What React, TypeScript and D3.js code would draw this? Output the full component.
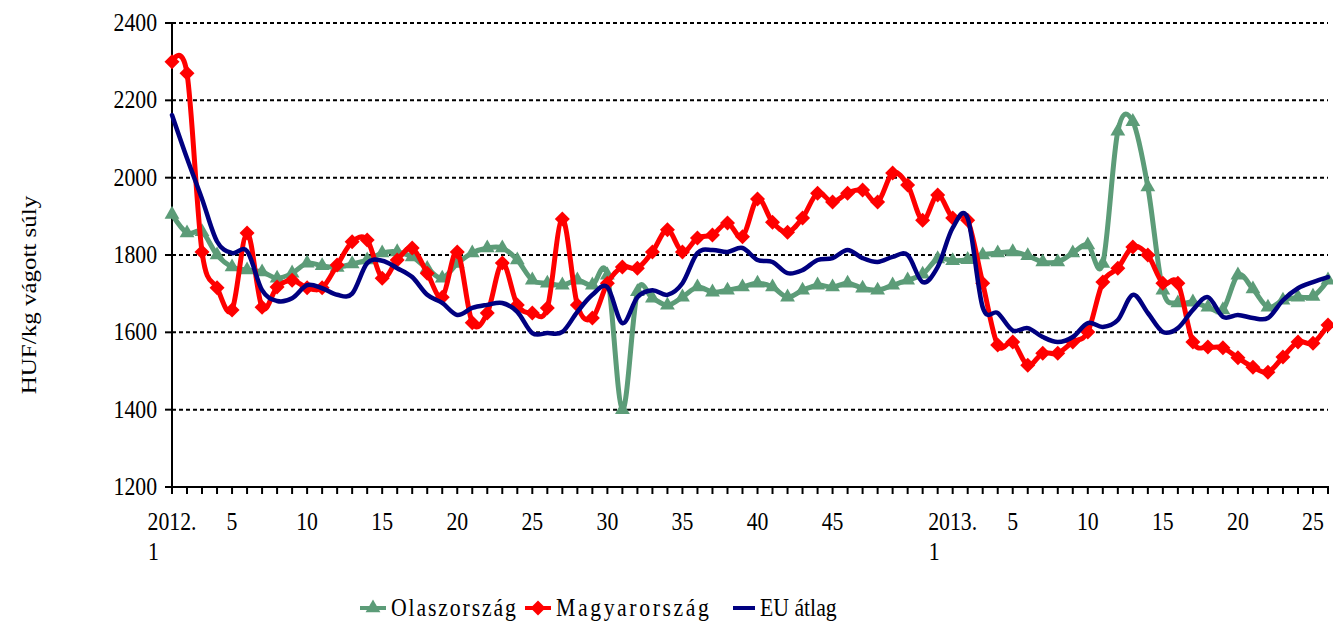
import React from "react";
import * as d3 from "d3";

// category axis: weeks of 2012 and first half of 2013
const years = ["2012.", "2013."];
const weeksInYear = [52, 26];
const labelledWeeks = [
  [1, 5, 10, 15, 20, 25, 30, 35, 40, 45],
  [1, 5, 10, 15, 20, 25],
];

const yTicks = [1200, 1400, 1600, 1800, 2000, 2200, 2400];

const olaszorszag = [
  1905, 1857, 1860, 1800, 1769, 1761, 1756, 1740, 1753, 1779,
  1772, 1768, 1777, 1787, 1805, 1808, 1795, 1765, 1740, 1778,
  1805, 1818, 1818, 1787, 1735, 1727, 1722, 1735, 1722, 1748,
  1400, 1705, 1688, 1670, 1691, 1717, 1704, 1709, 1717, 1727,
  1717, 1691, 1709, 1722, 1717, 1727, 1714, 1709, 1722, 1735,
  1750, 1790, 1785, 1788, 1800, 1805, 1808, 1798, 1782, 1782,
  1805, 1826, 1778, 2120, 2145, 1976, 1709, 1676, 1678, 1665,
  1658, 1748, 1712, 1665, 1683, 1691, 1693, 1735,
];

const magyarorszag = [
  2300, 2270, 1808, 1715, 1658, 1857, 1665, 1717, 1735, 1715,
  1715, 1774, 1834, 1839, 1740, 1787, 1818, 1753, 1691, 1808,
  1625, 1650, 1779, 1671, 1650, 1663, 1893, 1671, 1637, 1727,
  1769, 1766, 1808, 1865, 1808, 1844, 1852, 1883, 1847, 1945,
  1885, 1859, 1896, 1960, 1937, 1960, 1968, 1937, 2012, 1981,
  1890, 1955, 1896, 1890, 1727, 1567, 1575, 1515, 1546, 1546,
  1575, 1601, 1730, 1766, 1821, 1800, 1727, 1727, 1575, 1562,
  1560, 1534, 1510, 1497, 1536, 1575, 1572, 1619,
];

const euAtlag = [
  2162, 2050, 1945, 1835, 1805, 1810, 1709, 1681, 1688, 1722,
  1714, 1697, 1700, 1779, 1785, 1766, 1743, 1697, 1676, 1645,
  1663, 1671, 1676, 1653, 1598, 1598, 1601, 1653, 1697, 1717,
  1624, 1691, 1709, 1697, 1727, 1805, 1813, 1808, 1818, 1787,
  1782, 1753, 1761, 1787, 1792, 1813, 1792, 1782, 1795, 1800,
  1730, 1769, 1870, 1895, 1665, 1650, 1605, 1611, 1588, 1575,
  1588, 1624, 1614, 1632, 1697, 1650, 1601, 1611, 1658, 1691,
  1640, 1645, 1637, 1637, 1683, 1714, 1730, 1743,
];

const series = [
  { name: "Olaszország", values: olaszorszag, color: "#5C9C78", marker: "triangle", legendX: 360, textLen: 125 },
  { name: "Magyarország", values: magyarorszag, color: "#FF0000", marker: "diamond", legendX: 525, textLen: 153 },
  { name: "EU átlag", values: euAtlag, color: "#000080", marker: "none", legendX: 733, textLen: 0 },
];

const categories = years.flatMap((yr, k) =>
  d3.range(1, weeksInYear[k] + 1).map((w) => ({
    key: `${yr}${w}`,
    year: yr,
    week: w,
    show: labelledWeeks[k].includes(w),
  }))
);

const FONT = "'Liberation Serif', 'Times New Roman', serif";
const SX = 0.87; // horizontal squeeze of the original text

const Txt = ({ x, y, anchor = "start", size = 25, rot = false, len = 0, children }: any) => (
  <text
    transform={`translate(${x},${y}) scale(${SX},1)${rot ? " rotate(-90)" : ""}`}
    textAnchor={anchor}
    fontSize={size}
    fontFamily={FONT}
    fill="#000"
    {...(len ? { textLength: len / SX, lengthAdjust: "spacing" } : {})}
  >
    {children}
  </text>
);

const triangle = d3.symbol(d3.symbolTriangle, 95)();
const diamond = "M0,-7.5L7.5,0L0,7.5L-7.5,0Z";

const Marker = ({ type, color, x, y }: any) =>
  type === "none" ? null : (
    <path d={type === "triangle" ? triangle! : diamond} transform={`translate(${x},${y})`} fill={color} />
  );

export default function App() {
  const x = d3.scalePoint<string>().domain(categories.map((c) => c.key)).range([172, 1328]);
  const y = d3.scaleLinear().domain([1200, 2400]).range([487, 23]);
  const xs = categories.map((c) => x(c.key)!);

  const line = d3
    .line<number>()
    .x((_, i) => xs[i])
    .y((d) => y(d))
    .curve(d3.curveCatmullRom.alpha(0));

  return (
    <svg width={1333} height={623} style={{ position: "absolute", left: 0, top: 0, background: "#fff" }}>
      {/* gridlines */}
      {yTicks.slice(1).map((t) => (
        <line key={t} x1={172} x2={1328} y1={y(t)} y2={y(t)} stroke="#000" strokeWidth={2} strokeDasharray="4 3" />
      ))}

      {/* y axis */}
      <line x1={172} x2={172} y1={23} y2={488} stroke="#000" strokeWidth={2} />
      {yTicks.map((t) => (
        <g key={t}>
          <line x1={165} x2={172} y1={y(t)} y2={y(t)} stroke="#000" strokeWidth={2} />
          <Txt x={157} y={y(t) + 8} anchor="end">{t}</Txt>
        </g>
      ))}
      <Txt x={36} y={295} anchor="middle" rot>HUF/kg vágott súly</Txt>

      {/* x axis */}
      <line x1={171} x2={1329} y1={487} y2={487} stroke="#000" strokeWidth={2} />
      {categories.map((c, i) => (
        <g key={c.key}>
          <line x1={xs[i]} x2={xs[i]} y1={487} y2={494} stroke="#000" strokeWidth={2} />
          {c.show && c.week === 1 ? (
            <>
              <Txt x={xs[i]} y={530} anchor="middle">{c.year}</Txt>
              <Txt x={xs[i] - 24} y={560}>{c.week}</Txt>
            </>
          ) : c.show ? (
            <Txt x={xs[i]} y={530} anchor="middle">{c.week}</Txt>
          ) : null}
        </g>
      ))}

      {/* series */}
      {series.map((s) => (
        <g key={s.name}>
          <path d={line(s.values)!} fill="none" stroke={s.color} strokeWidth={s.marker === "none" ? 4.5 : 5} strokeLinejoin="round" strokeLinecap="round" />
          {s.values.map((v, i) => (
            <Marker key={i} type={s.marker} color={s.color} x={xs[i]} y={y(v)} />
          ))}
        </g>
      ))}

      {/* legend */}
      {series.map((s) => (
        <g key={s.name}>
          <line x1={s.legendX} x2={s.legendX + (s.marker === "none" ? 22 : 26)} y1={608} y2={608} stroke={s.color} strokeWidth={4} />
          <Marker type={s.marker} color={s.color} x={s.legendX + 13} y={608} />
          <Txt x={s.legendX + (s.marker === "none" ? 27 : 31)} y={616} len={s.textLen}>{s.name}</Txt>
        </g>
      ))}
    </svg>
  );
}
